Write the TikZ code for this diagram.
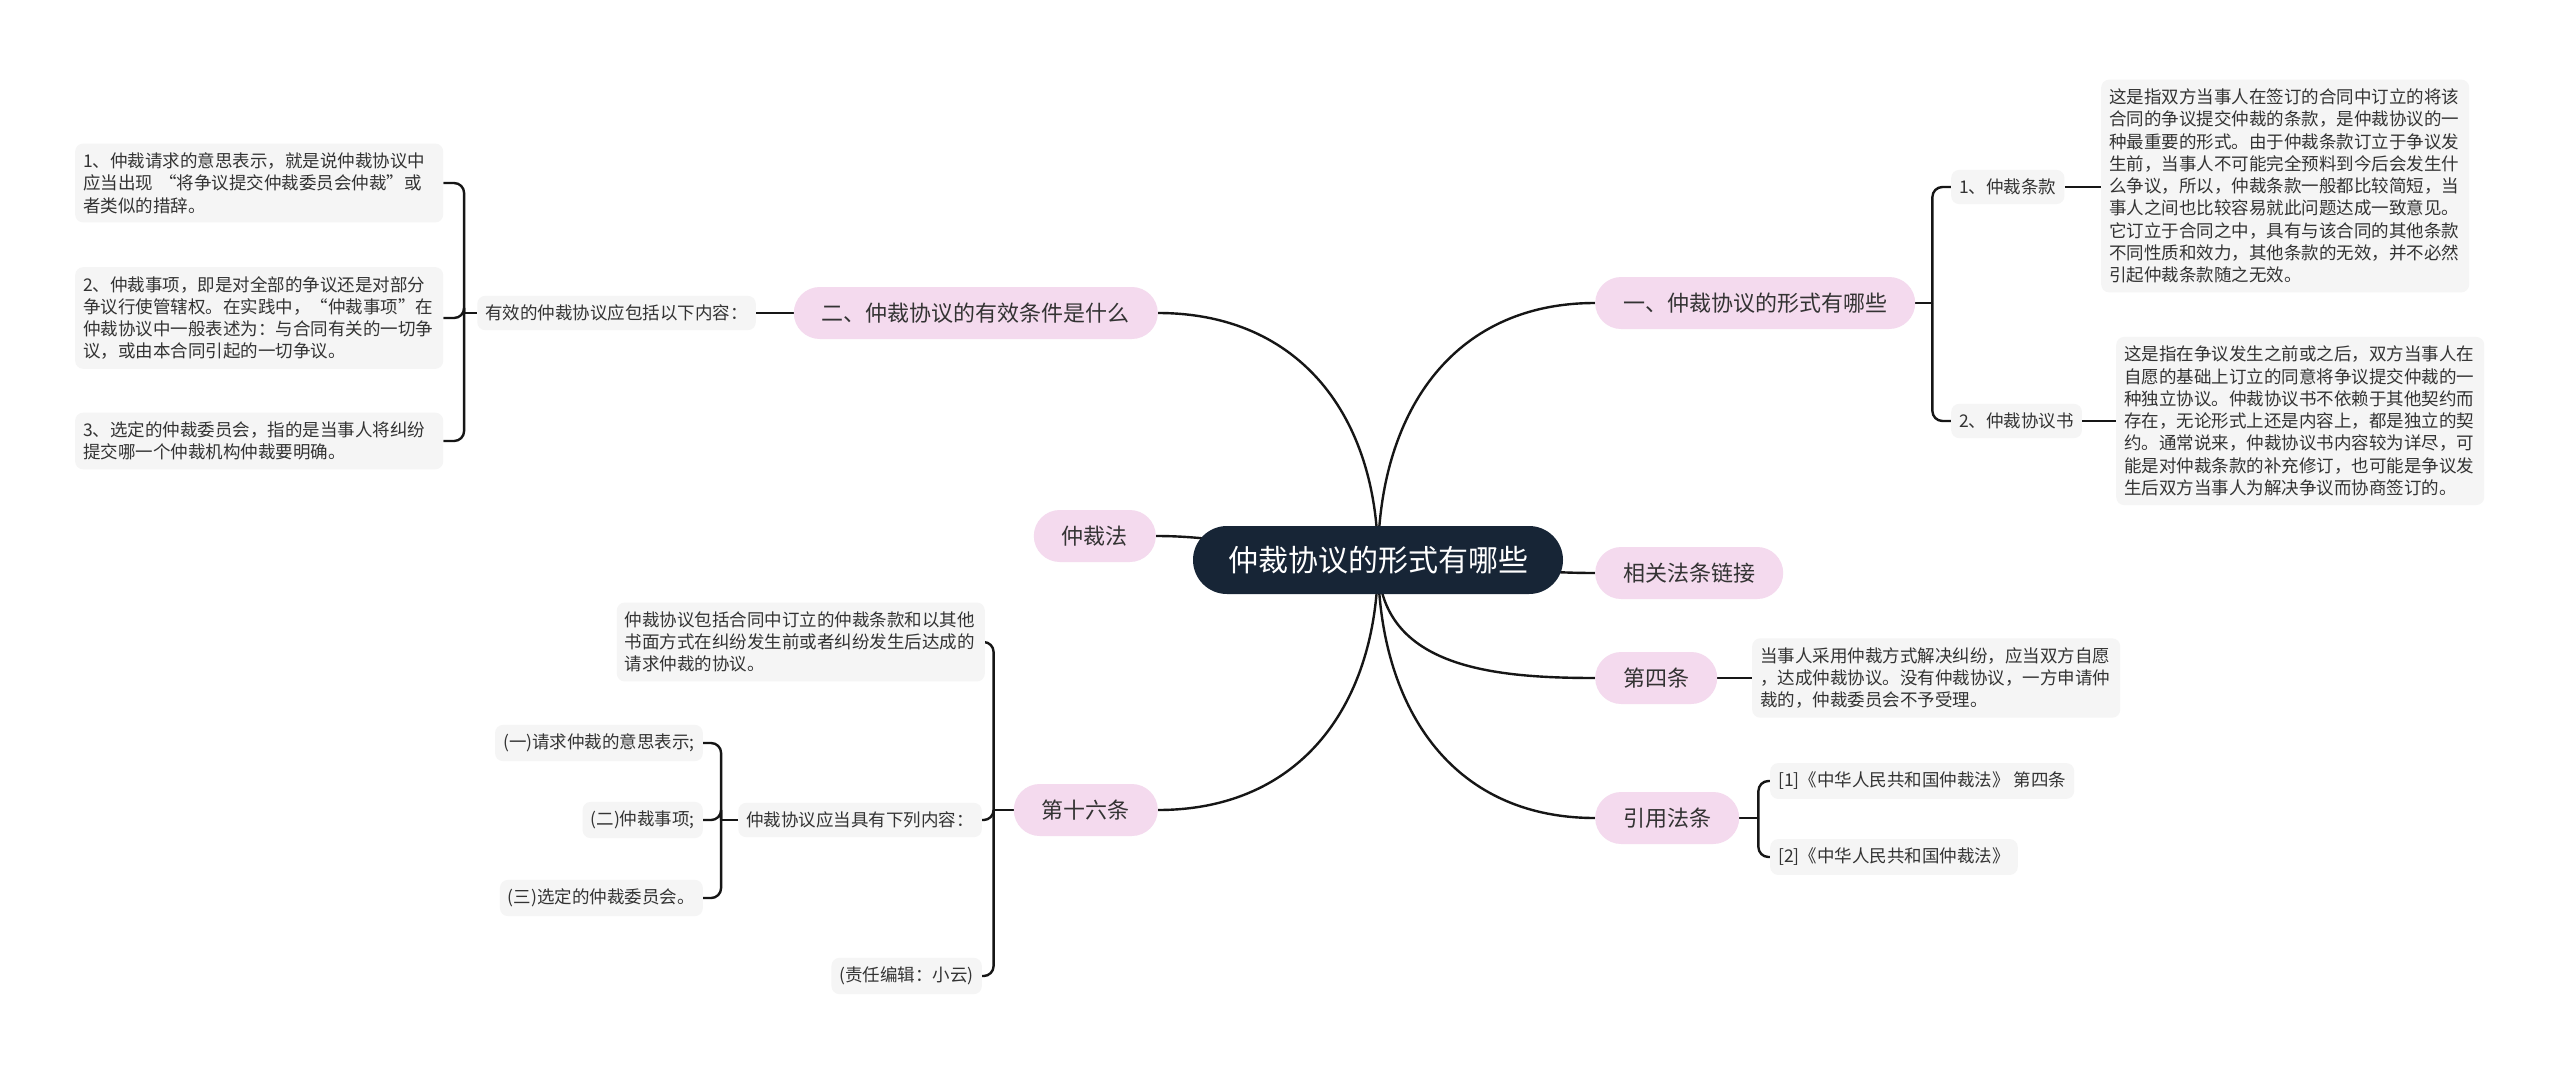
\documentclass[tikz,border=0pt]{standalone}
\usepackage{fontspec}
\setmainfont{Noto Sans CJK SC}
\usetikzlibrary{backgrounds}
\definecolor{rootblue}{HTML}{172536}
\definecolor{pinkfill}{HTML}{F4DAEE}
\definecolor{leafgray}{HTML}{F5F5F5}
\definecolor{txt}{HTML}{333333}
\definecolor{linecol}{HTML}{161616}
\tikzset{
  rootnode/.style={fill=rootblue, text=white, rounded corners=34pt, minimum height=68pt, inner xsep=35pt, font=\fontsize{30}{36}\selectfont},
  branch/.style={fill=pinkfill, text=txt, rounded corners=26pt, minimum height=52pt, inner xsep=28pt, font=\fontsize{22}{26}\selectfont},
  leaf/.style={fill=leafgray, text=txt, rounded corners=8pt, inner xsep=8pt, inner ysep=9pt, font=\fontsize{17.5}{22.3}\selectfont},
  para/.style={leaf, text width=352pt, align=left},
  link/.style={draw=linecol, line width=2.4pt},
  brace/.style={link, rounded corners=10pt},
}
\begin{document}
\begin{tikzpicture}[x=1pt, y=-1pt]
\useasboundingbox (0,0) rectangle (2560,1071);
% root
\node[rootnode] (root) at (1378,560) {仲裁协议的形式有哪些};
% right side
\node[branch, anchor=west] (forms) at (1595,303) {一、仲裁协议的形式有哪些};
\node[leaf, anchor=west] (clause) at (1951,187) {1、仲裁条款};
\node[leaf, anchor=west] (agree) at (1951,421) {2、仲裁协议书};
\node[para, anchor=west] (clausetxt) at (2101,186) {这是指双方当事人在签订的合同中订立的将该\\合同的争议提交仲裁的条款，是仲裁协议的一\\种最重要的形式。由于仲裁条款订立于争议发\\生前，当事人不可能完全预料到今后会发生什\\么争议，所以，仲裁条款一般都比较简短，当\\事人之间也比较容易就此问题达成一致意见。\\它订立于合同之中，具有与该合同的其他条款\\不同性质和效力，其他条款的无效，并不必然\\引起仲裁条款随之无效。};
\node[para, anchor=west] (agreetxt) at (2116,421) {这是指在争议发生之前或之后，双方当事人在\\自愿的基础上订立的同意将争议提交仲裁的一\\种独立协议。仲裁协议书不依赖于其他契约而\\存在，无论形式上还是内容上，都是独立的契\\约。通常说来，仲裁协议书内容较为详尽，可\\能是对仲裁条款的补充修订，也可能是争议发\\生后双方当事人为解决争议而协商签订的。};
\node[branch, anchor=west] (links) at (1595,573) {相关法条链接};
\node[branch, anchor=west] (art4) at (1595,678) {第四条};
\node[para, anchor=west] (art4txt) at (1752,678) {当事人采用仲裁方式解决纠纷，应当双方自愿\\，达成仲裁协议。没有仲裁协议，一方申请仲\\裁的，仲裁委员会不予受理。};
\node[branch, anchor=west] (cite) at (1595,818) {引用法条};
\node[leaf, anchor=west] (cite1) at (1770,781) {[1]《中华人民共和国仲裁法》 第四条};
\node[leaf, anchor=west] (cite2) at (1770,857) {[2]《中华人民共和国仲裁法》};
% left side
\node[branch, anchor=east] (cond) at (1158,313) {二、仲裁协议的有效条件是什么};
\node[leaf, anchor=east] (condintro) at (756,313) {有效的仲裁协议应包括以下内容：};
\node[para, anchor=west] (cond1) at (75,183) {1、仲裁请求的意思表示，就是说仲裁协议中\\应当出现~“将争议提交仲裁委员会仲裁”或\\者类似的措辞。};
\node[para, anchor=west] (cond2) at (75,318) {2、仲裁事项，即是对全部的争议还是对部分\\争议行使管辖权。在实践中，“仲裁事项”在\\仲裁协议中一般表述为：与合同有关的一切争\\议，或由本合同引起的一切争议。};
\node[para, anchor=west] (cond3) at (75,441) {3、选定的仲裁委员会，指的是当事人将纠纷\\提交哪一个仲裁机构仲裁要明确。};
\node[branch, anchor=east] (law) at (1156,536) {仲裁法};
\node[branch, anchor=east] (art16) at (1158,810) {第十六条};
\node[para, anchor=east] (art16txt) at (985,642) {仲裁协议包括合同中订立的仲裁条款和以其他\\书面方式在纠纷发生前或者纠纷发生后达成的\\请求仲裁的协议。};
\node[leaf, anchor=east] (art16list) at (982,820) {仲裁协议应当具有下列内容：};
\node[leaf, anchor=east] (editor) at (982,976) {(责任编辑：小云)};
\node[leaf, anchor=east] (item1) at (703,743) {(一)请求仲裁的意思表示;};
\node[leaf, anchor=east] (item2) at (703,820) {(二)仲裁事项;};
\node[leaf, anchor=east] (item3) at (703,898) {(三)选定的仲裁委员会。};
% connectors
\begin{scope}[on background layer]
\fill[white] (0,0) rectangle (2560,1071);
\draw[link] (root.center) to[out=90, in=180, looseness=1.1] (forms.west);
\draw[link] (root.center) to[out=0, in=180] (links.west);
\draw[link] (root.center) to[out=-90, in=180, looseness=1.1] (art4.west);
\draw[link] (root.center) to[out=-90, in=180, looseness=1.1] (cite.west);
\draw[link] (root.center) to[out=90, in=0, looseness=1.1] (cond.east);
\draw[link] (root.center) to[out=180, in=0] (law.east);
\draw[link] (root.center) to[out=-90, in=0, looseness=1.1] (art16.east);
% right brackets
\draw[link] (forms.east) -- ++(17,0) coordinate (fb);
\draw[brace] (fb) |- (clause.west);
\draw[brace] (fb) |- (agree.west);
\draw[link] (clause.east) -- (clausetxt.west |- clause.east);
\draw[link] (agree.east) -- (agreetxt.west |- agree.east);
\draw[link] (art4.east) -- (art4txt.west);
\draw[link] (cite.east) -- ++(19,0) coordinate (cb);
\draw[brace] (cb) |- (cite1.west);
\draw[brace] (cb) |- (cite2.west);
% left brackets
\draw[link] (cond.west) -- (condintro.east);
\draw[link] (condintro.west) -- ++(-13,0) coordinate (lb);
\draw[brace] (lb) |- (cond1.east);
\draw[brace] (lb) |- (cond2.east);
\draw[brace] (lb) |- (cond3.east);
\draw[link] (art16.west) -- ++(-20,0) coordinate (ab);
\draw[brace] (ab) |- (art16txt.east);
\draw[brace] (ab) |- (art16list.east);
\draw[brace] (ab) |- (editor.east);
\draw[link] (art16list.west) -- ++(-17,0) coordinate (ib);
\draw[brace] (ib) |- (item1.east);
\draw[brace] (ib) |- (item2.east);
\draw[brace] (ib) |- (item3.east);
\end{scope}
\end{tikzpicture}
\end{document}
